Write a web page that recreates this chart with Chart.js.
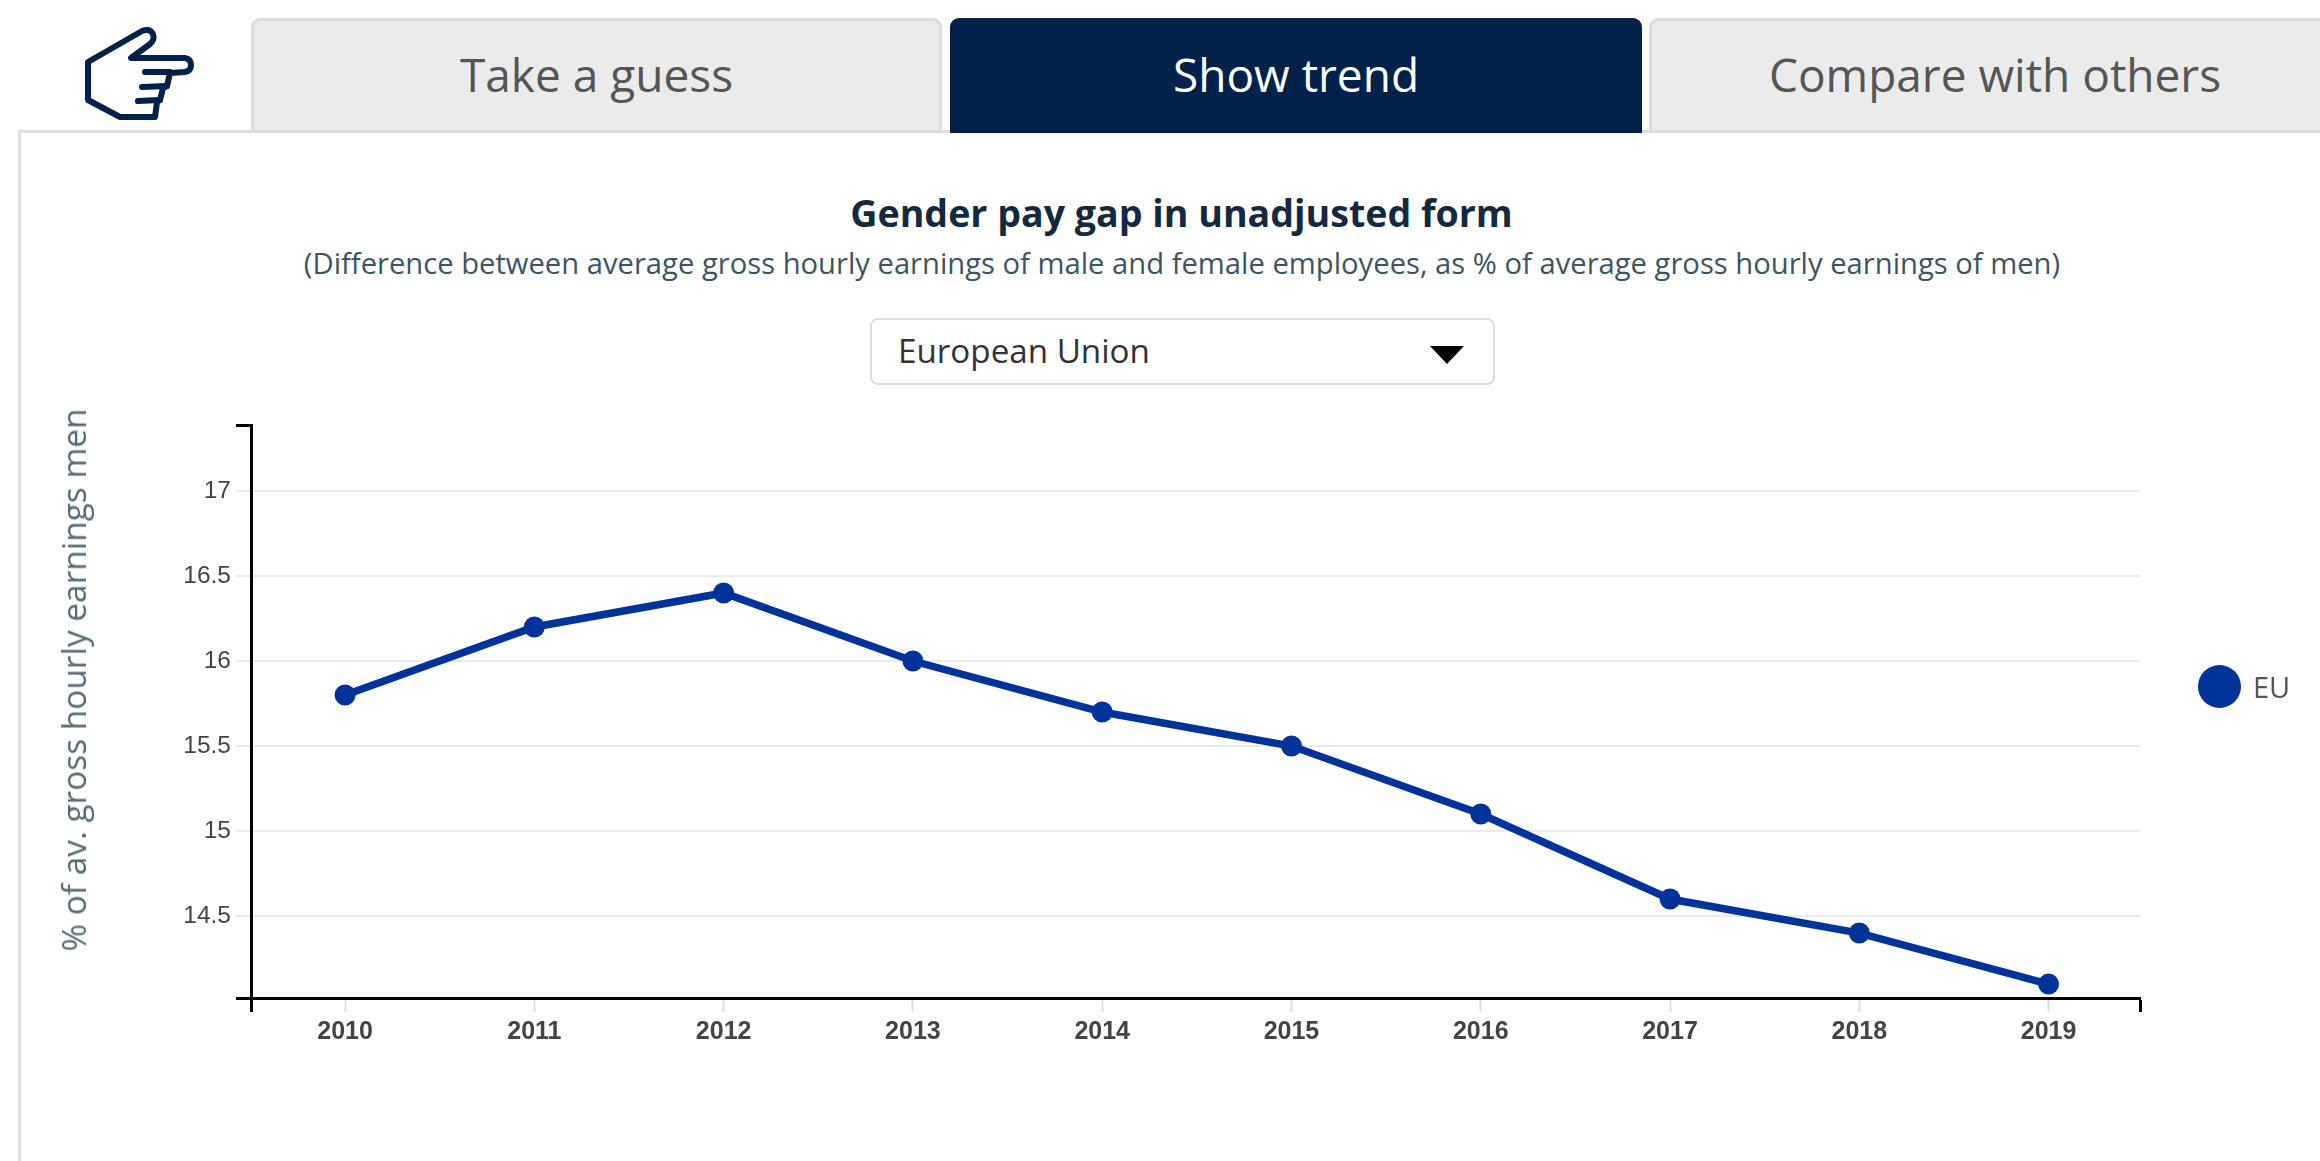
<!DOCTYPE html>
<html><head><meta charset="utf-8">
<script src="https://cdn.jsdelivr.net/npm/chart.js@4"></script>
<style>
html,body{margin:0;padding:0;background:#fff;width:2320px;height:1161px;overflow:hidden;font-family:"Open Sans",sans-serif}
.tab{position:absolute;top:18px;height:112px;box-sizing:border-box;background:#ebebeb;border:3px solid #ddd;border-bottom:none;border-radius:9px 9px 0 0;color:#555;font-size:46px;line-height:106px;text-align:center}
.tab.on{background:#00214a;border-color:#00214a;color:#fff;height:115px}
#panel{position:absolute;left:18px;top:130px;width:2320px;height:1100px;box-sizing:border-box;border:3px solid #ddd;border-right:none;background:#fff}
#title{position:absolute;left:0;width:2363px;top:188px;text-align:center;font-weight:700;font-size:37.6px;line-height:50px;color:#14293f}
#sub{position:absolute;left:0;width:2364px;top:243px;text-align:center;font-size:29.2px;line-height:40px;color:#3e5561}
#sel{position:absolute;left:870px;top:318px;width:625px;height:67px;box-sizing:border-box;border:2px solid #ddd;border-radius:8px;background:#fff;font-size:33.2px;line-height:62px;padding-left:26px;color:#333}
#arrow{position:absolute;left:1430px;top:346px;width:0;height:0;border-left:17px solid transparent;border-right:17px solid transparent;border-top:18px solid #000}
#c{position:absolute;left:0;top:400px}
#ytitle{position:absolute;left:73px;top:680px;transform:translate(-50%,-50%) rotate(-90deg);white-space:nowrap;font-size:33.4px;color:#566b75}
#legend{position:absolute;left:2198px;top:665px;height:43px;display:flex;align-items:center;font-size:29px;color:#555}
#legend i{display:block;width:43px;height:43px;border-radius:50%;margin-right:12px}
svg{position:absolute;left:0;top:0}
</style></head><body>
<svg width="230" height="130" viewBox="0 0 230 130" fill="none" stroke="#00214a" stroke-width="6" stroke-linejoin="round" stroke-linecap="round">
<path d="M88 62 L142 31 Q150 28 153 34 Q155 40 150 44 L131 58 L185 58 Q191 59 191 65 Q191 71 185 72 L170 73 L167 86 L163 88 L160 100 L157 102 L155 117 L120 117 L88 100 Z"/>
<path d="M170 72 L145 72 M167 86 L142 87 M160 100 L138 101"/>
</svg>
<div id="panel"></div>
<div class="tab" style="left:251px;width:691px">Take a guess</div>
<div class="tab on" style="left:950px;width:692px">Show trend</div>
<div class="tab" style="left:1649px;width:692px">Compare with others</div>
<div id="title">Gender pay gap in unadjusted form</div>
<div id="sub">(Difference between average gross hourly earnings of male and female employees, as % of average gross hourly earnings of men)</div>
<div id="sel">European Union</div><div id="arrow"></div>
<canvas id="c" width="2320" height="660"></canvas>
<div id="ytitle">% of av. gross hourly earnings men</div>
<div id="legend"></div>
<script>
const years = [2010,2011,2012,2013,2014,2015,2016,2017,2018,2019];
const gap = [15.8,16.2,16.4,16.0,15.7,15.5,15.1,14.6,14.4,14.1];
const yTickValues = [14.5,15,15.5,16,16.5,17];
const seriesName = "EU";
const seriesColor = "#003399";
const yMin = 14.018, yMax = 17.388;
const xMin = 2009.503, xMax = 2019.483;

const chart = new Chart(document.getElementById('c'), {
  type: 'line',
  data: { datasets: [{
    label: seriesName,
    data: years.map((y,i)=>({x:y,y:gap[i]})),
    borderColor: seriesColor, backgroundColor: seriesColor,
    pointBackgroundColor: seriesColor, pointBorderColor: seriesColor,
    borderWidth: 7.5, pointRadius: 10.5, pointBorderWidth: 0, tension: 0, fill:false
  }]},
  options: {
    responsive:false, animation:false,
    layout:{padding:{top:25,right:180,left:0,bottom:0}},
    plugins:{legend:{display:false},title:{display:false},tooltip:{enabled:false}},
    scales:{
      x:{ type:'linear', min:xMin, max:xMax,
        afterBuildTicks:s=>{ s.ticks=[xMin,...years,xMax].map(v=>({value:v})); },
        afterFit:s=>{ s.height=62; },
        border:{color:'#000',width:3},
        grid:{drawOnChartArea:false,drawTicks:true,tickLength:14,
          tickColor:c=>(c.tick&&years.includes(c.tick.value))?'#ddd':'#000',
          tickWidth:c=>(c.tick&&years.includes(c.tick.value))?2:3},
        ticks:{autoSkip:false,maxRotation:0,padding:5,color:'#444',
          font:{family:'"Liberation Sans",Arial,sans-serif',size:25,weight:'bold'},
          callback:v=>years.includes(v)?String(v):''}
      },
      y:{ min:yMin, max:yMax,
        afterBuildTicks:s=>{ s.ticks=[yMin,...yTickValues,yMax].map(v=>({value:v})); },
        afterFit:s=>{ s.width=251; },
        border:{color:'#000',width:3},
        grid:{tickLength:15,drawTicks:true,
          color:c=>c.tick.value===yMax?'rgba(0,0,0,0)':(c.tick.value===yMin?'#000':'#eaeaea'),
          tickColor:c=>yTickValues.includes(c.tick.value)?'#eaeaea':'#000',
          lineWidth:c=>yTickValues.includes(c.tick.value)?2:3,
          tickWidth:c=>yTickValues.includes(c.tick.value)?2:3},
        ticks:{autoSkip:false,padding:5,color:'#444',
          font:{family:'"Liberation Sans",Arial,sans-serif',size:24.5},
          callback:v=>yTickValues.includes(v)?String(v):''}
      }
    }
  }
});
const lg=document.getElementById('legend');
chart.data.datasets.forEach(d=>{
  const i=document.createElement('i'); i.style.background=d.borderColor;
  const s=document.createElement('span'); s.textContent=d.label;
  lg.append(i,s);
});
</script>
</body></html>
